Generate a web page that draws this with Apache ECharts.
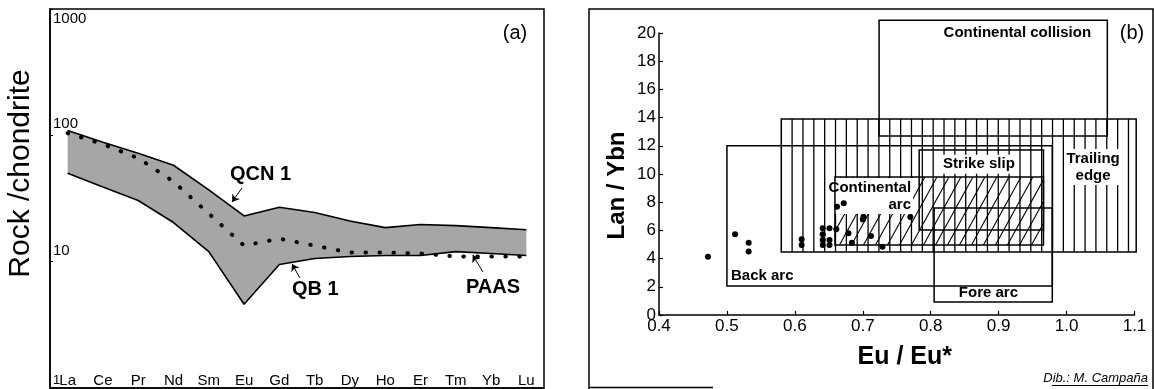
<!DOCTYPE html>
<html><head><meta charset="utf-8">
<script src="https://cdn.jsdelivr.net/npm/echarts@6/dist/echarts.min.js"></script>
<style>html,body{margin:0;padding:0;background:#fff}#c{width:1154px;height:389px}</style>
</head><body><div id="c"></div>
<script>
// ---------- Panel (a): REE patterns ----------
const elements = ['La','Ce','Pr','Nd','Sm','Eu','Gd','Tb','Dy','Ho','Er','Tm','Yb','Lu'];
const qcn1 = [109,88,72,58,37,23,27,24.5,21,18.6,19.7,19.3,18.6,17.9];
const qb1  = [50,39,30.5,20.4,12,4.6,9.5,10.6,11,11.2,11.2,12,11.6,11.2];
const paas = [104,85,66,43,24,13.4,15.2,13.4,11.8,11.8,11.6,11.0,11.0,11.0];
const logTicks = [1,10,100,1000];
// annotations (element index, value)
const annoTextA = ['QCN 1','QB 1','PAAS'];
const annoXA = [4.6,6.36,11.29];
const annoYA = [48.6,5.97,6.3];
const arrowFromXA = [4.94,6.58,11.77];
const arrowFromYA = [38.3,7.43,8.29];
const arrowToXA = [4.66,6.36,11.48];
const arrowToYA = [29.7,9.59,11.3];

// ---------- Panel (b): Lan/Ybn vs Eu/Eu* ----------
const euRatio = [0.472,0.512,0.532,0.532,0.610,0.610,0.641,0.641,0.641,0.641,0.651,0.651,0.651,0.661,0.662,0.672,0.679,0.684,0.701,0.700,0.712,0.729,0.770];
const lanYbn  = [4.13,5.72,5.13,4.50,5.37,4.96,6.15,5.72,5.32,4.96,6.15,5.32,4.96,6.08,7.68,7.92,5.79,5.13,6.97,6.77,5.60,4.84,6.95];
const fieldNames  = ['Continental collision','Trailing edge','Back arc','Strike slip','Continental arc','Fore arc'];
const fieldEuMin  = [0.724,0.58,0.50,0.783,0.659,0.805];
const fieldEuMax  = [1.06,1.1025,0.979,0.966,0.966,0.979];
const fieldLaMin  = [12.7,4.47,2.06,6.03,4.96,0.92];
const fieldLaMax  = [20.9,13.9,12.0,11.7,9.79,7.59];
const fieldHatch  = ['none','vertical','none','none','diagonal','none'];
const fieldLabelText = ['Continental collision','Trailing\nedge','Back arc','Strike slip','Continental\narc','Fore arc'];
const fieldLabelEu   = [1.039,1.039,0.503,0.871,0.774,0.885];
const fieldLabelLa   = [20.0,10.5,2.77,10.7,8.44,1.56];
const fieldLabelAlign= ['right','center','left','center','right','center'];

const FONT = '"Liberation Sans", Arial, Helvetica, sans-serif';

const chart = echarts.init(document.getElementById('c'), null, {renderer:'canvas'});

const option = {
  animation: false,
  backgroundColor: '#fff',
  textStyle: {fontFamily: FONT, color:'#000'},
  grid: [
    {left:50, top:9, width:494, height:379, show:true, borderColor:'#000', borderWidth:1.5, containLabel:false},
    {left:659, top:33, width:475.5, height:282, containLabel:false}
  ],
  xAxis: [
    {type:'category', gridIndex:0, data:elements, boundaryGap:true,
     axisLine:{onZero:false, lineStyle:{color:'#000', width:1.5}},
     axisTick:{inside:true, length:4, lineStyle:{color:'#000', width:1.2}},
     axisLabel:{inside:true, margin:0, fontSize:15, color:'#000', fontFamily:FONT, interval:0}},
    {type:'value', gridIndex:0, min:-0.5, max:13.5, show:false},
    {type:'value', gridIndex:1, min:0.4, max:1.1, interval:0.1,
     axisLine:{onZero:false, lineStyle:{color:'#000', width:1.5}},
     axisTick:{inside:true, length:4, lineStyle:{color:'#000', width:1.2}},
     splitLine:{show:false},
     axisLabel:{margin:3, fontSize:17, color:'#000', fontFamily:FONT, formatter:v=>v.toFixed(1)},
     name:'Eu / Eu*', nameLocation:'middle', nameGap:30,
     nameTextStyle:{fontSize:25, fontWeight:'bold', color:'#000', fontFamily:FONT, padding:[0,0,0,16]}}
  ],
  yAxis: [
    {type:'log', logBase:10, gridIndex:0, min:1, max:1000,
     axisLine:{show:true, onZero:false, lineStyle:{color:'#000', width:1.5}},
     axisTick:{show:true, inside:true, length:3, lineStyle:{color:'#000'}},
     splitLine:{show:false},
     axisLabel:{inside:true, margin:3, color:'#000', fontFamily:FONT, fontSize:15,
       formatter: v => { const r = Math.round(v); return r===1000 ? '{t|1000}' : (r===1 ? '{o|1}' : '{b|'+r+'}'); },
       rich:{t:{fontSize:15, padding:[20,0,0,0], fontFamily:FONT},
             b:{fontSize:15, padding:[0,0,22,0], fontFamily:FONT},
             o:{fontSize:13, padding:[0,0,16,0], fontFamily:FONT}}},
     name:'Rock /chondrite', nameLocation:'middle', nameGap:14,
     nameTextStyle:{fontSize:30, color:'#000', fontFamily:FONT, padding:[0,0,0,50]}},
    {type:'value', gridIndex:1, min:0, max:20, interval:2,
     axisLine:{show:true, onZero:false, lineStyle:{color:'#000', width:1.5}},
     axisTick:{show:true, inside:true, length:4, lineStyle:{color:'#000', width:1.2}},
     splitLine:{show:false},
     axisLabel:{margin:3, fontSize:17, color:'#000', fontFamily:FONT},
     name:'Lan / Ybn', nameLocation:'middle', nameGap:30,
     nameTextStyle:{fontSize:24, fontWeight:'bold', color:'#000', fontFamily:FONT, padding:[0,23,0,0]}}
  ],
  series: [
    // band fill
    {type:'custom', xAxisIndex:0, yAxisIndex:0, z:1, silent:true,
     data:[[0, qcn1[0]]],
     renderItem:(params, api) => {
       const pts = [];
       for (let i=0;i<elements.length;i++) pts.push(api.coord([i, qcn1[i]]));
       for (let i=elements.length-1;i>=0;i--) pts.push(api.coord([i, qb1[i]]));
       return {type:'polygon', shape:{points:pts}, style:{fill:'#a6a6a6'}};
     }},
    {type:'line', name:'QCN 1', xAxisIndex:0, yAxisIndex:0, data:qcn1, symbol:'none', z:3,
     lineStyle:{color:'#000', width:1.6}},
    {type:'line', name:'QB 1', xAxisIndex:0, yAxisIndex:0, data:qb1, symbol:'none', z:3,
     lineStyle:{color:'#000', width:1.6}},
    {type:'line', name:'PAAS', xAxisIndex:0, yAxisIndex:0, data:paas, symbol:'none', z:4,
     lineStyle:{color:'#000', width:4, type:[0.5,13.5], cap:'round'}},
    // annotations (a)
    {type:'custom', xAxisIndex:1, yAxisIndex:0, z:5, silent:true,
     data: annoTextA.map((t,i)=>[annoXA[i], annoYA[i]]),
     renderItem:(params, api) => {
       const i = params.dataIndex; const p = api.coord([annoXA[i], annoYA[i]]);
       return {type:'text', x:p[0], y:p[1], style:{text:annoTextA[i], align:'left', verticalAlign:'middle',
         font:'bold 20px '+FONT, fill:'#000'}};
     }},
    {type:'lines', coordinateSystem:'cartesian2d', xAxisIndex:1, yAxisIndex:0, z:5, silent:true,
     symbol:['none','arrow'], symbolSize:[0,7],
     lineStyle:{color:'#000', width:1, opacity:1, curveness:0},
     data: arrowFromXA.map((x,i)=>({coords:[[x, arrowFromYA[i]],[arrowToXA[i], arrowToYA[i]]]}))},
    // panel (b) hatching
    {type:'custom', xAxisIndex:2, yAxisIndex:1, z:1, silent:true,
     data: fieldNames.map((n,i)=>[fieldEuMin[i], fieldLaMin[i], fieldEuMax[i], fieldLaMax[i]]),
     encode:{x:[0,2], y:[1,3]},
     renderItem:(params, api) => {
       const i = params.dataIndex;
       const tl = api.coord([fieldEuMin[i], fieldLaMax[i]]);
       const br = api.coord([fieldEuMax[i], fieldLaMin[i]]);
       const x0=tl[0], y0=tl[1], x1=br[0], y1=br[1];
       const ch = [];
       const st = {stroke:'#000', lineWidth:1.3};
       if (fieldHatch[i]==='vertical') {
         for (let x=x0+10.85; x<x1-3; x+=10.85) ch.push({type:'line', shape:{x1:x,y1:y0,x2:x,y2:y1}, style:st});
       } else if (fieldHatch[i]==='diagonal') {
         const h = y1-y0, k = 0.55, w = h*k;
         for (let c=x0-w+6; c<x1; c+=12) {
           const tmin = Math.max(0,(x0-c)/w), tmax = Math.min(1,(x1-c)/w);
           if (tmin < tmax) ch.push({type:'line', shape:{x1:c+tmin*w, y1:y1-tmin*h, x2:c+tmax*w, y2:y1-tmax*h}, style:{stroke:'#000', lineWidth:1.1}});
         }
       }
       return {type:'group', children:ch};
     }},
    // panel (b) labels
    {type:'custom', xAxisIndex:2, yAxisIndex:1, z:2, silent:true,
     data: fieldLabelText.map((t,i)=>[fieldLabelEu[i], fieldLabelLa[i]]),
     renderItem:(params, api) => {
       const i = params.dataIndex; const p = api.coord([fieldLabelEu[i], fieldLabelLa[i]]);
       return {type:'text', x:p[0], y:p[1], style:{text:fieldLabelText[i], align:fieldLabelAlign[i], verticalAlign:'middle',
         font:'bold 15px '+FONT, fill:'#000', backgroundColor:'#fff', padding:[1,2], lineHeight:17}};
     }},
    // panel (b) outlines
    {type:'custom', xAxisIndex:2, yAxisIndex:1, z:3, silent:true,
     data: fieldNames.map((n,i)=>[fieldEuMin[i], fieldLaMin[i], fieldEuMax[i], fieldLaMax[i]]),
     encode:{x:[0,2], y:[1,3]},
     renderItem:(params, api) => {
       const i = params.dataIndex;
       const tl = api.coord([fieldEuMin[i], fieldLaMax[i]]);
       const br = api.coord([fieldEuMax[i], fieldLaMin[i]]);
       return {type:'rect', shape:{x:tl[0], y:tl[1], width:br[0]-tl[0], height:br[1]-tl[1]},
         style:{fill:'none', stroke:'#000', lineWidth:1.5}};
     }},
    {type:'scatter', xAxisIndex:2, yAxisIndex:1, z:4, symbol:'circle', symbolSize:6,
     itemStyle:{color:'#000', opacity:1},
     data: euRatio.map((x,i)=>[x, lanYbn[i]])}
  ],
  graphic: [
    {type:'text', x:515, y:33, style:{text:'(a)', font:'20px '+FONT, fill:'#000', align:'center', verticalAlign:'middle'}},
    {type:'text', x:1132, y:33, style:{text:'(b)', font:'20px '+FONT, fill:'#000', align:'center', verticalAlign:'middle'}},
    {type:'polyline', shape:{points:[[589,389],[589,9],[1153,9],[1153,389]]}, style:{stroke:'#000', lineWidth:1.5, fill:'none'}},
    {type:'line', shape:{x1:589, y1:387.5, x2:713, y2:387.5}, style:{stroke:'#000', lineWidth:1.5}},
    {type:'text', x:1148, y:378, style:{text:'Dib.: M. Campaña', font:'italic 13px '+FONT, fill:'#000', align:'right', verticalAlign:'middle'}},
    {type:'line', shape:{x1:1052, y1:385.5, x2:1148, y2:385.5}, style:{stroke:'#000', lineWidth:1}}
  ]
};
chart.setOption(option);
</script>
</body></html>
